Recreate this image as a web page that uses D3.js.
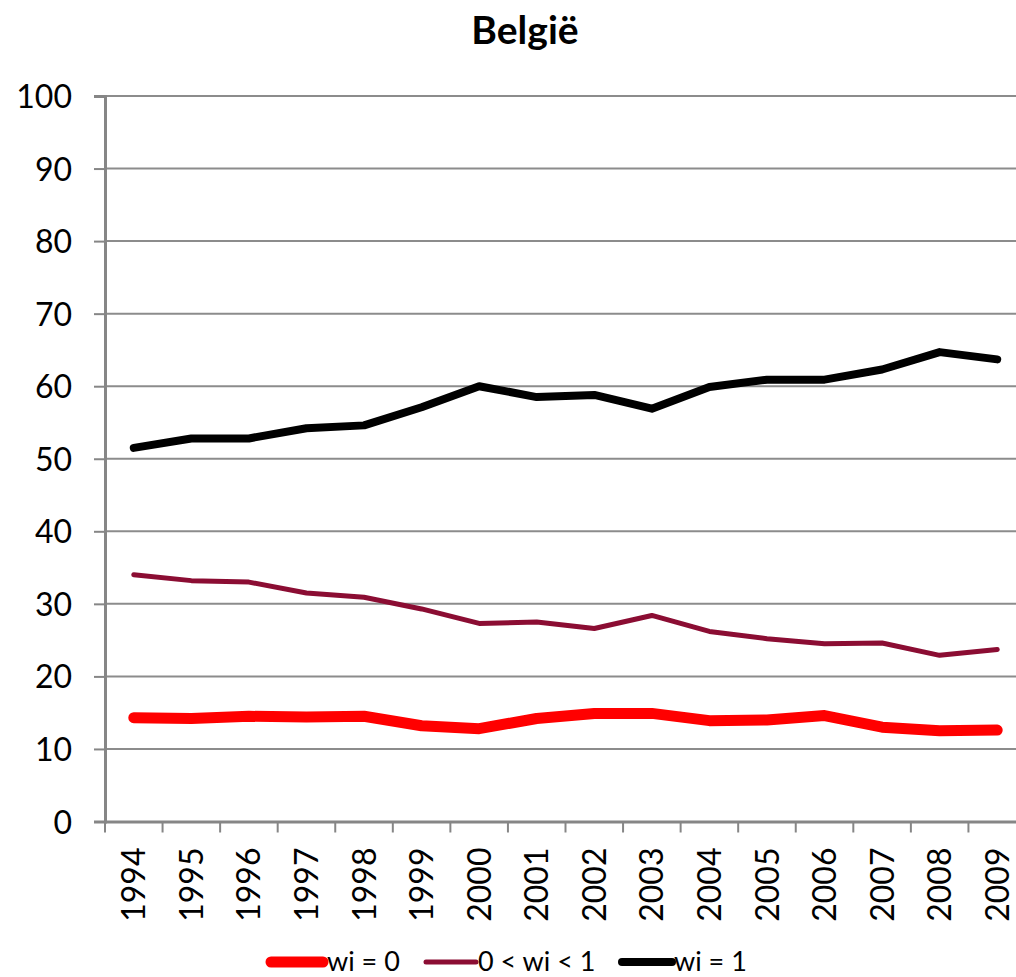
<!DOCTYPE html>
<html>
<head lang="nl">
    <meta charset="UTF-8">
    <title>België</title>
    <script src="https://cdn.jsdelivr.net/npm/d3@7"></script>
    <style type="text/css">
        body { margin: 0; background: #fff; }
        svg text { font-family: Lato, "Open Sans", sans-serif; fill: #000; }
    </style>
</head>
<body>
<svg id="svg" width="1016" height="977"></svg>

<script>
    // chart data
    var years = ["1994", "1995", "1996", "1997", "1998", "1999", "2000", "2001",
                 "2002", "2003", "2004", "2005", "2006", "2007", "2008", "2009"];
    var wiZero = [14.3, 14.2, 14.5, 14.4, 14.5, 13.2, 12.8, 14.2,
                  14.9, 14.9, 13.9, 14.0, 14.6, 13.0, 12.5, 12.6];
    var wiPartial = [34.0, 33.2, 33.0, 31.5, 30.9, 29.3, 27.3, 27.5,
                     26.6, 28.4, 26.2, 25.2, 24.5, 24.6, 22.9, 23.7];
    var wiOne = [51.5, 52.8, 52.8, 54.2, 54.6, 57.1, 60.0, 58.5,
                 58.8, 56.9, 59.9, 60.9, 60.9, 62.3, 64.7, 63.7];
    var yTicks = [0, 10, 20, 30, 40, 50, 60, 70, 80, 90, 100];

    var series = [
        {name: "wi = 0", values: wiZero, color: "#ff0000", width: 11},
        {name: "0 < wi < 1", values: wiPartial, color: "#8b0d33", width: 5},
        {name: "wi = 1", values: wiOne, color: "#000000", width: 8}
    ];

    var svg = d3.select("svg");
    var plotLeft = 105, plotRight = 1026, plotTop = 96, plotBottom = 821.5;

    var x = d3.scaleBand().domain(years).range([plotLeft, plotRight]);
    var y = d3.scaleLinear().domain([0, 100]).range([plotBottom, plotTop]);

    // gridlines
    svg.append("g").selectAll("line")
        .data(yTicks.slice(1))
        .enter().append("line")
        .attr("x1", plotLeft).attr("x2", plotRight)
        .attr("y1", function (d) { return y(d); })
        .attr("y2", function (d) { return y(d); })
        .attr("stroke", "#8c8c8c")
        .attr("stroke-width", 2);

    // y axis
    var yAxis = svg.append("g")
        .attr("transform", "translate(" + plotLeft + ",0)")
        .call(d3.axisLeft(y).tickValues(yTicks).tickSize(11).tickPadding(22));
    yAxis.select(".domain").attr("stroke", "#868686").attr("stroke-width", 3);
    yAxis.selectAll(".tick line").attr("stroke", "#868686").attr("stroke-width", 2);
    yAxis.selectAll("text").style("font-size", "32px").attr("dy", "0.36em");

    // x axis
    var xAxis = svg.append("g")
        .attr("transform", "translate(0," + plotBottom + ")")
        .call(d3.axisBottom(x).tickSize(0));
    xAxis.select(".domain").attr("stroke", "#868686").attr("stroke-width", 3);
    xAxis.selectAll(".tick line").remove();
    xAxis.selectAll(".tick text")
        .style("font-size", "32px")
        .attr("text-anchor", "end")
        .attr("transform", "rotate(-90)")
        .attr("x", -26)
        .attr("y", 0)
        .attr("dy", "0.36em");

    // x tick marks between categories
    svg.append("g").selectAll("line")
        .data(years)
        .enter().append("line")
        .attr("x1", function (d) { return x(d); })
        .attr("x2", function (d) { return x(d); })
        .attr("y1", plotBottom).attr("y2", plotBottom + 11)
        .attr("stroke", "#868686")
        .attr("stroke-width", 2);

    // series lines
    var line = d3.line()
        .x(function (d, i) { return x(years[i]) + x.bandwidth() / 2; })
        .y(function (d) { return y(d); });

    svg.append("g").selectAll("path")
        .data(series)
        .enter().append("path")
        .attr("d", function (s) { return line(s.values); })
        .attr("fill", "none")
        .attr("stroke", function (s) { return s.color; })
        .attr("stroke-width", function (s) { return s.width; })
        .attr("stroke-linejoin", "round")
        .attr("stroke-linecap", "round");

    // title
    svg.append("text")
        .attr("x", 525).attr("y", 44)
        .attr("text-anchor", "middle")
        .style("font-size", "39px")
        .style("font-weight", "bold")
        .text("België");

    // legend
    var legendX = [271, 426, 622];
    var legend = svg.append("g").selectAll("g")
        .data(series)
        .enter().append("g")
        .attr("transform", function (s, i) { return "translate(" + legendX[i] + ",962)"; });
    legend.append("line")
        .attr("x1", 0).attr("x2", function (s, i) { return i == 0 ? 52 : 50; })
        .attr("y1", 0).attr("y2", 0)
        .attr("stroke", function (s) { return s.color; })
        .attr("stroke-width", function (s) { return s.width; })
        .attr("stroke-linecap", "round");
    legend.append("text")
        .attr("x", function (s, i) { return i == 0 ? 56 : 52; })
        .attr("y", 9)
        .style("font-size", "27px")
        .text(function (s) { return s.name; });
</script>
</body>
</html>
